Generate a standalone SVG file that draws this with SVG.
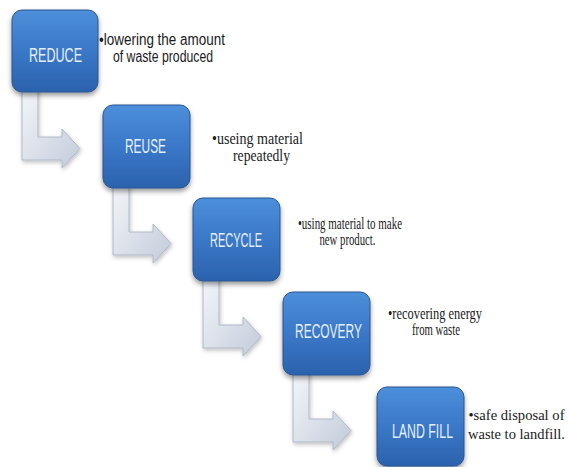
<svg xmlns="http://www.w3.org/2000/svg" xmlns:xlink="http://www.w3.org/1999/xlink" width="570" height="467" viewBox="0 0 570 467">
<style>
.box{fill:url(#gBox);stroke:#2a5590;stroke-width:1;filter:url(#sh)}
.lbl{font-family:"Liberation Sans",Arial,sans-serif;font-size:20px;fill:#e6eef9;text-anchor:middle}
.arr{fill:url(#gArr);stroke:#aeb8c8;stroke-width:1;filter:url(#sh2)}
.ds{font-family:"Liberation Sans",Arial,sans-serif;font-size:16px;fill:#1a1a1a;text-anchor:middle}
.dt{font-family:"Liberation Serif","Times New Roman",serif;font-size:16px;fill:#1a1a1a;text-anchor:middle}
.sm{font-size:14px}
</style>
<defs>
<linearGradient id="gBox" x1="0" y1="0" x2="0" y2="1">
<stop offset="0" stop-color="#4d8fdb"/>
<stop offset="0.5" stop-color="#3a78c8"/>
<stop offset="1" stop-color="#2b62ad"/>
</linearGradient>
<linearGradient id="gArr" x1="0" y1="0" x2="1" y2="1">
<stop offset="0" stop-color="#f4f6fa"/>
<stop offset="1" stop-color="#c3cbda"/>
</linearGradient>
<filter id="sh" x="-20%" y="-20%" width="140%" height="150%">
<feDropShadow dx="0" dy="3" stdDeviation="2.5" flood-color="#000" flood-opacity="0.4"/>
</filter>
<filter id="sh2" x="-20%" y="-20%" width="140%" height="150%">
<feDropShadow dx="1" dy="2" stdDeviation="2" flood-color="#000" flood-opacity="0.25"/>
</filter>
<path id="arrow" d="M 10 78 L 26 78 L 26 127 L 50 127 L 50 119 L 68 138.5 L 50 158 L 50 150 L 10 150 Z"/>
</defs>
<rect width="570" height="467" fill="#ffffff"/>
<g id="connectors">
<use xlink:href="#arrow" class="arr" transform="translate(12,10)"/>
<use xlink:href="#arrow" class="arr" transform="translate(103,105)"/>
<use xlink:href="#arrow" class="arr" transform="translate(193,198)"/>
<use xlink:href="#arrow" class="arr" transform="translate(283,292)"/>
</g>
<g id="reduce">
<rect class="box" x="12" y="10" width="86" height="82" rx="10"/>
<text class="lbl" x="55.5" y="62" textLength="53" lengthAdjust="spacingAndGlyphs">REDUCE</text>
<text class="ds" x="162" y="45" textLength="126" lengthAdjust="spacingAndGlyphs">•lowering the amount</text>
<text class="ds" x="163" y="62" textLength="100" lengthAdjust="spacingAndGlyphs">of waste produced</text>
</g>
<g id="reuse">
<rect class="box" x="103" y="105" width="87" height="83" rx="10"/>
<text class="lbl" x="145.5" y="153" textLength="41" lengthAdjust="spacingAndGlyphs">REUSE</text>
<text class="dt" x="257.5" y="144" textLength="91" lengthAdjust="spacingAndGlyphs">•useing material</text>
<text class="dt" x="261.5" y="161" textLength="57" lengthAdjust="spacingAndGlyphs">repeatedly</text>
</g>
<g id="recycle">
<rect class="box" x="193" y="198" width="87" height="83" rx="10"/>
<text class="lbl" x="236" y="247" textLength="52" lengthAdjust="spacingAndGlyphs">RECYCLE</text>
<text class="dt" x="350" y="229" textLength="104" lengthAdjust="spacingAndGlyphs">•using material to make</text>
<text class="dt" x="347.5" y="245" textLength="56" lengthAdjust="spacingAndGlyphs">new product.</text>
</g>
<g id="recovery">
<rect class="box" x="283" y="292" width="87" height="83" rx="10"/>
<text class="lbl" x="328.5" y="338" textLength="67" lengthAdjust="spacingAndGlyphs">RECOVERY</text>
<text class="dt" x="435" y="319" textLength="94" lengthAdjust="spacingAndGlyphs">•recovering energy</text>
<text class="dt" x="436" y="335" textLength="48" lengthAdjust="spacingAndGlyphs">from waste</text>
</g>
<g id="landfill">
<rect class="box" x="377" y="387" width="87" height="79" rx="10"/>
<text class="lbl" x="422.5" y="438" textLength="61" lengthAdjust="spacingAndGlyphs">LAND FILL</text>
<text class="dt sm" x="516.5" y="420" textLength="96" lengthAdjust="spacingAndGlyphs">•safe disposal of</text>
<text class="dt sm" x="516.5" y="439" textLength="97" lengthAdjust="spacingAndGlyphs">waste to landfill.</text>
</g>
</svg>
